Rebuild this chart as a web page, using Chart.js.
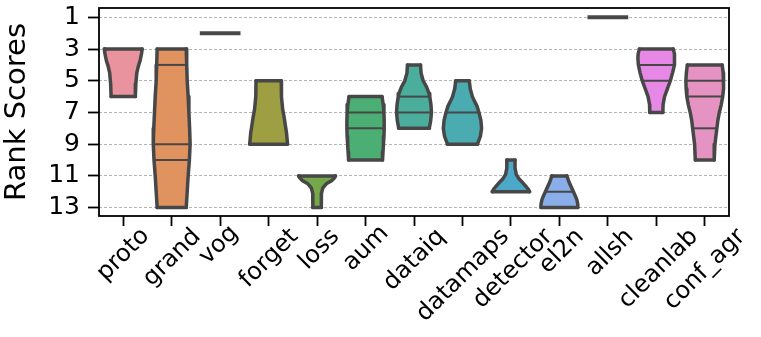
<!DOCTYPE html>
<html>
<head>
<meta charset="utf-8">
<script src="https://cdn.jsdelivr.net/npm/chart.js@4.4.1/dist/chart.umd.min.js"></script>
<style>
  html, body { margin: 0; padding: 0; background: #fff; }
  #wrap { width: 761px; height: 337px; }
</style>
</head>
<body>
<div id="wrap"><canvas id="rankChart" width="761" height="337"></canvas></div>
<script>
const categories = ['proto', 'grand', 'vog', 'forget', 'loss', 'aum', 'dataiq',
  'datamaps', 'detector', 'el2n', 'allsh', 'cleanlab', 'conf_agr'];
const yTicks = [1, 3, 5, 7, 9, 11, 13];

// violin outline: rank -> half width (in category units)
const profileRanks = [
  [3, 3.25, 3.7, 4.1, 4.5, 5.2, 6],
  [3, 4, 5, 6, 7, 8, 9, 10, 11, 12, 13],
  [2],
  [5, 6, 6.8, 7.3, 7.8, 8.3, 9],
  [11, 11.12, 11.3, 11.5, 11.75, 12.1, 12.6, 13],
  [6, 6.5, 7, 7.5, 8, 8.5, 9, 9.5, 10],
  [4, 4.5, 5, 5.4, 5.8, 6, 6.5, 7, 7.5, 8],
  [5, 5.5, 6, 6.3, 6.6, 7, 7.5, 8, 8.5, 9],
  [10, 10.5, 10.9, 11.2, 11.45, 11.7, 11.85, 12],
  [11, 11.4, 11.8, 12, 12.2, 12.5, 12.8, 13],
  [1],
  [3, 3.3, 3.6, 4, 4.5, 5, 5.5, 6, 6.5, 7],
  [4, 4.5, 5, 5.5, 6, 6.5, 7, 7.5, 8, 9, 10]
];
const profileWidths = [
  [0.39, 0.38, 0.35, 0.31, 0.28, 0.26, 0.25],
  [0.30, 0.31, 0.32, 0.34, 0.355, 0.37, 0.38, 0.365, 0.34, 0.32, 0.30],
  [0.42],
  [0.26, 0.265, 0.29, 0.32, 0.345, 0.37, 0.39],
  [0.38, 0.36, 0.30, 0.19, 0.12, 0.09, 0.085, 0.09],
  [0.34, 0.365, 0.38, 0.385, 0.385, 0.38, 0.37, 0.36, 0.35],
  [0.135, 0.145, 0.19, 0.26, 0.31, 0.325, 0.35, 0.36, 0.345, 0.315],
  [0.14, 0.16, 0.205, 0.25, 0.30, 0.34, 0.38, 0.395, 0.37, 0.31],
  [0.085, 0.085, 0.11, 0.17, 0.25, 0.32, 0.36, 0.385],
  [0.155, 0.20, 0.26, 0.29, 0.32, 0.36, 0.38, 0.38],
  [0.42],
  [0.35, 0.375, 0.38, 0.37, 0.335, 0.29, 0.23, 0.17, 0.14, 0.135],
  [0.36, 0.38, 0.39, 0.385, 0.37, 0.34, 0.30, 0.27, 0.25, 0.21, 0.195]
];
const quartileRanks = [[], [4, 9, 10], [], [], [], [7, 8], [6, 7], [7], [], [12], [], [4, 5], [5, 6, 8]];

const fillColors = ['#e8939e', '#e0925f', '#c9a04a', '#9e9f42', '#74a84a', '#4bae73', '#4bae9c',
  '#4aabb0', '#4ba8c9', '#8aaee9', '#b49ae8', '#e888e6', '#e593c2'];

const EDGE = '#474747';

const datasets = [];
const flat = (i, r, w, width) => ({
  data: [{x: i - w, y: r}, {x: i + w, y: r}],
  borderColor: EDGE, borderWidth: width, fill: false, order: 0
});

categories.forEach((name, i) => {
  const ranks = profileRanks[i];
  const widths = profileWidths[i];
  if (ranks.length === 1) {
    // a single value is drawn as a flat line
    datasets.push(Object.assign(flat(i, ranks[0], widths[0], 4), {label: name}));
    return;
  }
  const leftIndex = datasets.length;
  datasets.push({
    label: name,
    data: ranks.map((r, k) => ({x: i - widths[k], y: r})),
    borderColor: EDGE, borderWidth: 3.5, borderCapStyle: 'round', fill: false, order: 1
  });
  datasets.push({
    data: ranks.map((r, k) => ({x: i + widths[k], y: r})),
    borderColor: EDGE, borderWidth: 3.5, borderCapStyle: 'round',
    backgroundColor: fillColors[i], fill: leftIndex, order: 1
  });
  const last = ranks.length - 1;
  datasets.push(Object.assign(flat(i, ranks[0], widths[0], 3.5), {borderCapStyle: 'round'}));
  datasets.push(Object.assign(flat(i, ranks[last], widths[last], 3.5), {borderCapStyle: 'round'}));
  quartileRanks[i].forEach(q => {
    datasets.push(flat(i, q, widths[ranks.indexOf(q)], 2));
  });
});

const frameAndLabels = {
  id: 'frameAndLabels',
  afterDraw(chart) {
    const {ctx, chartArea: a, scales: {x}} = chart;
    ctx.save();
    ctx.strokeStyle = '#000';
    ctx.lineWidth = 1.8;
    ctx.strokeRect(a.left, a.top, a.right - a.left, a.bottom - a.top);
    // rotated category labels, centred under each tick
    ctx.font = '24px "DejaVu Sans"';
    ctx.fillStyle = '#000';
    categories.forEach((name, i) => {
      const m = ctx.measureText(name);
      const asc = m.actualBoundingBoxAscent, desc = m.actualBoundingBoxDescent;
      const half = (m.width + asc + desc) / (2 * Math.SQRT2);
      ctx.save();
      ctx.translate(x.getPixelForValue(i), a.bottom + 8 + half);
      ctx.rotate(-Math.PI / 4);
      ctx.textAlign = 'center';
      ctx.textBaseline = 'alphabetic';
      ctx.fillText(name, 0, (asc - desc) / 2);
      ctx.restore();
    });
    ctx.restore();
  }
};

new Chart(document.getElementById('rankChart').getContext('2d'), {
  type: 'scatter',
  data: { datasets },
  options: {
    responsive: false,
    animation: false,
    devicePixelRatio: 1,
    indexAxis: 'y',
    layout: { padding: { top: 8, right: 32, left: 0, bottom: 0 } },
    elements: {
      line: { tension: 0, borderJoinStyle: 'round' },
      point: { radius: 0, hoverRadius: 0 }
    },
    datasets: { scatter: { showLine: true } },
    plugins: { legend: { display: false }, tooltip: { enabled: false } },
    scales: {
      x: {
        type: 'linear', min: -0.5, max: 12.5,
        afterBuildTicks: s => { s.ticks = categories.map((_, i) => ({value: i})); },
        ticks: { display: false, autoSkip: false },
        grid: { drawOnChartArea: false, drawTicks: true, tickLength: 10, tickColor: '#000', tickWidth: 1.8 },
        border: { display: false },
        afterFit: s => { s.height = 121; s.paddingLeft = 0; s.paddingRight = 0; }
      },
      y: {
        type: 'linear', reverse: true, min: 0.41, max: 13.53,
        afterBuildTicks: s => { s.ticks = yTicks.map(v => ({value: v})); },
        ticks: {
          autoSkip: false, padding: 8, color: '#000',
          font: { family: '"DejaVu Sans"', size: 25 },
          callback: v => String(v)
        },
        grid: { color: '#b4b4b4', lineWidth: 1, tickLength: 11, tickColor: '#000', tickWidth: 1.8, tickBorderDash: [] },
        border: { display: false, dash: [3, 2] },
        title: {
          display: true, text: 'Rank Scores', color: '#000',
          font: { family: '"DejaVu Sans"', size: 29 }, padding: { top: 0, bottom: 0 }
        },
        afterFit: s => { s.width = 99; s.paddingTop = 0; s.paddingBottom = 0; }
      }
    }
  },
  plugins: [frameAndLabels]
});
</script>
</body>
</html>
